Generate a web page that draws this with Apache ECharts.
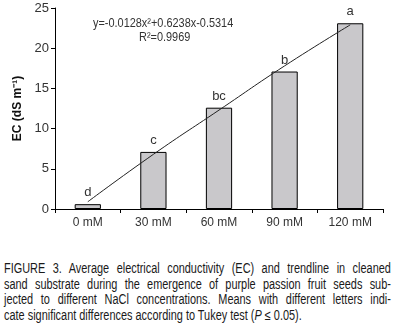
<!DOCTYPE html>
<html>
<head>
<meta charset="utf-8">
<script src="https://cdn.jsdelivr.net/npm/echarts@6/dist/echarts.min.js"></script>
<style>
  html, body { margin: 0; padding: 0; background: #fff; overflow: hidden; }
  #chart { position: absolute; left: 0; top: 0; width: 395px; height: 240px; }
  #caption {
    position: absolute; left: 4px; top: 261px; width: 496px;
    transform: scaleX(0.78); transform-origin: 0 0;
    font-family: "Liberation Sans", Arial, sans-serif;
    font-size: 14px; line-height: 15.5px; color: #1a1a1a;
  }
  #caption div { white-space: nowrap; text-align: justify; text-align-last: justify; }
  #caption div.last { text-align-last: left; }
</style>
</head>
<body>
<div id="chart"></div>
<div id="caption">
  <div>FIGURE 3. Average electrical conductivity (EC) and trendline in cleaned</div>
  <div>sand substrate during the emergence of purple passion fruit seeds sub-</div>
  <div>jected to different NaCl concentrations. Means with different letters indi-</div>
  <div class="last">cate significant differences according to Tukey test (<i>P</i> ≤ 0.05).</div>
</div>
<script>
const categories = ["0 mM", "30 mM", "60 mM", "90 mM", "120 mM"];
const ecValues = [0.6, 7.1, 12.6, 17.1, 23.1];
const letters = ["d", "c", "bc", "b", "a"];
const trendValues = [0.9, 6.8, 12.3, 17.8, 22.9];
const yTicks = [0, 5, 10, 15, 20, 25];

const font = '"Liberation Sans", Arial, sans-serif';
const chart = echarts.init(document.getElementById("chart"));

const option = {
  animation: false,
  textStyle: { fontFamily: font },
  grid: { left: 55, right: 12, top: 8, bottom: 31 },
  xAxis: {
    type: "category",
    data: categories,
    axisLine: { lineStyle: { color: "#000", width: 1 } },
    axisTick: { show: true, length: 4, inside: false, lineStyle: { color: "#000" } },
    axisLabel: { color: "#333", fontSize: 12, margin: 8, fontFamily: font }
  },
  yAxis: {
    type: "value",
    min: yTicks[0],
    max: yTicks[yTicks.length - 1],
    interval: 5,
    name: "EC (dS m⁻¹)",
    nameLocation: "middle",
    nameGap: 31,
    nameRotate: 90,
    nameTextStyle: { color: "#111", fontSize: 12, fontWeight: "bold", fontFamily: font },
    axisLine: { show: true, lineStyle: { color: "#000", width: 1 } },
    axisTick: { show: true, length: 4, lineStyle: { color: "#000" } },
    axisLabel: { color: "#333", fontSize: 13, margin: 6, fontFamily: font },
    splitLine: { show: false }
  },
  graphic: [
    {
      type: "text", left: 93, top: 17, scaleX: 0.84,
      style: { text: "y=-0.0128x²+0.6238x-0.5314", fill: "#333", font: "13px " + font }
    },
    {
      type: "text", left: 139, top: 31, scaleX: 0.84,
      style: { text: "R²=0.9969", fill: "#333", font: "13px " + font }
    }
  ],
  series: [
    {
      type: "bar",
      data: ecValues,
      barWidth: "40%",
      itemStyle: { color: "#c9c8cb", borderColor: "#000", borderWidth: 1 },
      label: {
        show: true, position: "top", distance: 5,
        formatter: (p) => letters[p.dataIndex],
        color: "#333", fontSize: 13, fontFamily: font
      }
    },
    {
      type: "line",
      data: trendValues,
      smooth: true,
      symbol: "none",
      lineStyle: { color: "#222", width: 1 },
      z: 5
    }
  ]
};

chart.setOption(option);
</script>
</body>
</html>
